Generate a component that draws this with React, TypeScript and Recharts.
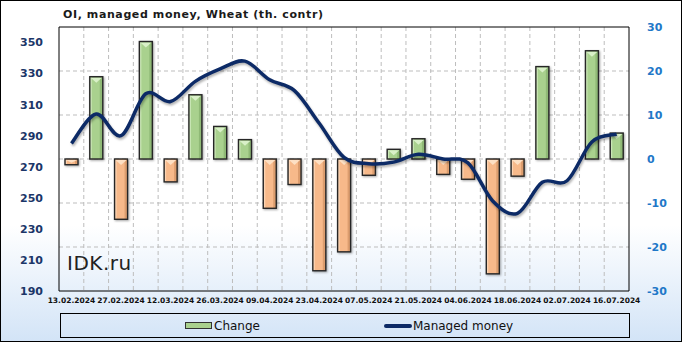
import React from 'react';
import {
  ComposedChart,
  Bar,
  Line,
  XAxis,
  YAxis,
  CartesianGrid,
  ReferenceArea,
  Legend,
  Cell,
} from 'recharts';

const dates = [
  '13.02.2024', '20.02.2024', '27.02.2024', '05.03.2024', '12.03.2024', '19.03.2024',
  '26.03.2024', '02.04.2024', '09.04.2024', '16.04.2024', '23.04.2024', '30.04.2024',
  '07.05.2024', '14.05.2024', '21.05.2024', '28.05.2024', '04.06.2024', '11.06.2024',
  '18.06.2024', '25.06.2024', '02.07.2024', '09.07.2024', '16.07.2024',
];
const change = [
  -1.3, 18.7, -13.7, 26.7, -5.2, 14.6, 7.4, 4.4, -11.2, -5.8, -25.4, -21.1,
  -3.7, 2.2, 4.6, -3.5, -4.6, -26.1, -3.9, 21.0, null, 24.6, 5.9,
];
const managedMoney = [
  285, 304, 290, 317, 312, 325, 333, 338, 326, 319, 298, 276,
  272, 273, 278, 275, 272.5, 248, 240, 260, 261, 286, 291,
];
const leftTicks = [190, 210, 230, 250, 270, 290, 310, 330, 350];
const rightTicks = [-30, -20, -10, 0, 10, 20, 30];

const data = dates.map((d, i) => ({ date: d, change: change[i], mm: managedMoney[i] }));

const FONT = '"DejaVu Sans", Verdana, sans-serif';

// excel-like smoothing (catmull-rom through the points)
const smoothCurve = (context: any) => {
  let pts: number[][] = [];
  return {
    areaStart() {},
    areaEnd() {},
    lineStart() {
      pts = [];
    },
    point(x: number, y: number) {
      pts.push([+x, +y]);
    },
    lineEnd() {
      if (!pts.length) return;
      context.moveTo(pts[0][0], pts[0][1]);
      for (let i = 0; i < pts.length - 1; i++) {
        const p0 = pts[Math.max(0, i - 1)];
        const p1 = pts[i];
        const p2 = pts[i + 1];
        const p3 = pts[Math.min(pts.length - 1, i + 2)];
        context.bezierCurveTo(
          p1[0] + (p2[0] - p0[0]) / 6,
          p1[1] + (p2[1] - p0[1]) / 6,
          p2[0] - (p3[0] - p1[0]) / 6,
          p2[1] - (p3[1] - p1[1]) / 6,
          p2[0],
          p2[1],
        );
      }
    },
  };
};

function BevelBar(props: any) {
  let { x, y, width, height, value } = props;
  if (value == null || !width) return null;
  if (height < 0) {
    y += height;
    height = -height;
  }
  const pos = value >= 0;
  const fill = pos ? '#a9d18e' : '#f7b98a';
  const light = pos ? '#d9f0c8' : '#fde0c4';
  const dark = pos ? '#7fa866' : '#c98a5c';
  const tri = Math.min(5, height / 2);
  return (
    <g style={{ filter: 'drop-shadow(1px 1px 1px rgba(0,0,0,0.35))' }}>
      <rect x={x} y={y} width={width} height={height} fill={fill} />
      <rect x={x + width - 3} y={y} width={3} height={height} fill={dark} opacity={0.6} />
      <rect x={x} y={y} width={2} height={height} fill={light} opacity={0.7} />
      <polygon
        points={`${x + 1},${y + 1} ${x + width - 1},${y + 1} ${x + width / 2},${y + 1 + tri}`}
        fill={light}
      />
      <rect x={x} y={y} width={width} height={height} fill="none" stroke="#262626" strokeWidth={1.4} />
    </g>
  );
}

function LegendBox() {
  return (
    <div
      style={{
        boxSizing: 'border-box',
        width: 570,
        height: 25,
        border: '1px solid #000',
        display: 'flex',
        alignItems: 'center',
        fontFamily: FONT,
        fontSize: 12,
        color: '#111',
      }}
    >
      <div style={{ marginLeft: 124, display: 'flex', alignItems: 'center' }}>
        <span
          style={{
            display: 'inline-block',
            width: 25,
            height: 5,
            background: '#a9d18e',
            border: '1px solid #333',
            marginRight: 2,
          }}
        />
        <span>Change</span>
      </div>
      <div style={{ marginLeft: 124, display: 'flex', alignItems: 'center' }}>
        <span
          style={{
            display: 'inline-block',
            width: 28,
            height: 4,
            background: '#0c2a66',
            borderRadius: 2,
            marginRight: 1,
          }}
        />
        <span>Managed money</span>
      </div>
    </div>
  );
}

export default function App() {
  return (
    <div
      style={{
        position: 'fixed',
        left: 0,
        top: 0,
        width: 682,
        height: 342,
        boxSizing: 'border-box',
        border: '1px solid #000',
        background: 'linear-gradient(180deg, #ffffff 0%, #ffffff 66%, #d3e4f7 100%)',
        overflow: 'hidden',
      }}
    >
      <div
        style={{
          position: 'absolute',
          left: 62,
          top: 7,
          fontFamily: FONT,
          fontWeight: 'bold',
          fontSize: 11,
          letterSpacing: 0.6,
          color: '#1a1a1a',
        }}
      >
        OI, managed money, Wheat (th. contr)
      </div>
      <ComposedChart
        width={681}
        height={341}
        data={data}
        margin={{ top: 26, right: 0, left: -1, bottom: 6 }}
        style={{ position: 'absolute', left: 0, top: 0 }}
      >
        <CartesianGrid
          yAxisId="right"
          stroke="#bdbdbd"
          strokeDasharray="4 3"
          horizontalValues={[-20, -10, 0, 10, 20]}
          verticalCoordinatesGenerator={({ offset }: any) =>
            dates.slice(1).map((_, i) => offset.left + ((i + 1) * offset.width) / dates.length)
          }
        />
        <XAxis
          dataKey="date"
          interval={1}
          height={20}
          tickLine={false}
          axisLine={false}
          tick={{ fontSize: 7.5, fontWeight: 'bold', fill: '#111', fontFamily: FONT }}
          tickMargin={1}
        />
        <YAxis
          yAxisId="left"
          orientation="left"
          domain={[190, 360]}
          ticks={leftTicks}
          width={59}
          tickLine={false}
          axisLine={false}
          tickMargin={10}
          tick={{ fontSize: 11, fontWeight: 'bold', fill: '#1b3668', fontFamily: FONT }}
        />
        <YAxis
          yAxisId="right"
          orientation="right"
          domain={[-30, 30]}
          ticks={rightTicks}
          width={53}
          tickLine={false}
          axisLine={false}
          tickMargin={12}
          tick={{ fontSize: 11, fontWeight: 'bold', fill: '#1f78c8', fontFamily: FONT, textAnchor: 'start' }}
        />
        <ReferenceArea yAxisId="right" y1={-30} y2={30} fill="none" stroke="#000" strokeWidth={1} ifOverflow="visible" />
        <Bar yAxisId="right" dataKey="change" barSize={13} shape={<BevelBar />} isAnimationActive={false}>
          {data.map((d, i) => (
            <Cell key={i} fill={(d.change ?? 0) >= 0 ? '#a9d18e' : '#f7b98a'} />
          ))}
        </Bar>
        <Line
          yAxisId="left"
          dataKey="mm"
          type={smoothCurve as any}
          stroke="#0c2a66"
          strokeWidth={3.5}
          dot={false}
          activeDot={false}
          isAnimationActive={false}
          style={{ filter: 'drop-shadow(1px 2px 1px rgba(0,0,0,0.3))' }}
        />
        <Legend
          content={() => <LegendBox />}
          wrapperStyle={{ position: 'absolute', left: 59, top: 312, width: 570, height: 25 }}
        />
      </ComposedChart>
      <div
        style={{
          position: 'absolute',
          left: 66,
          top: 250,
          fontFamily: FONT,
          fontSize: 20,
          letterSpacing: 0.5,
          color: '#222',
        }}
      >
        IDK.ru
      </div>
    </div>
  );
}
